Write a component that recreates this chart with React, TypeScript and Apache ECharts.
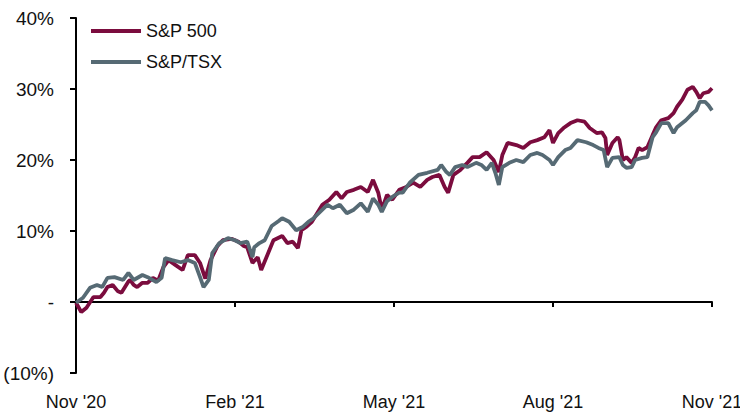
import React, { useEffect, useRef } from "react";
import * as echarts from "echarts";

// x = days since 2 Nov 2020, y = cumulative return (%)
const spDays = [0, 3, 6, 10, 14, 16, 18, 21, 24, 26, 30, 31, 33, 35, 38, 41, 44, 47, 50, 53, 57, 61, 64, 68, 71, 74, 77, 81, 84, 89, 93, 96, 98, 101, 104, 106, 109, 113, 118, 121, 124, 127, 129, 132, 135, 138, 141, 145, 149, 152, 155, 159, 163, 167, 170, 173, 175, 178, 181, 185, 189, 193, 197, 201, 204, 208, 211, 213, 216, 220, 224, 227, 231, 235, 239, 242, 244, 247, 252, 256, 260, 264, 268, 271, 273, 276, 279, 283, 287, 291, 294, 298, 301, 303, 304, 307, 310, 311, 313, 315, 318, 320, 322, 324, 327, 330, 332, 335, 339, 342, 344, 347, 350, 353, 355, 357, 359, 362, 364];
const spValues = [-0.1, -1.4, -0.8, 0.7, 0.7, 1.3, 2.1, 2.4, 1.5, 1.3, 2.9, 3.1, 2.4, 2.1, 2.7, 2.7, 3.4, 3.0, 4.9, 5.9, 5.2, 4.5, 6.6, 6.6, 5.5, 3.3, 5.9, 7.9, 8.7, 8.9, 8.5, 7.9, 7.7, 5.5, 6.3, 4.5, 6.3, 8.7, 9.3, 8.3, 8.5, 7.6, 10.1, 10.6, 11.3, 12.5, 13.7, 14.4, 15.5, 14.6, 15.5, 15.8, 16.2, 15.5, 17.2, 15.4, 13.0, 15.1, 14.4, 15.8, 16.2, 16.8, 16.2, 17.2, 17.6, 17.9, 16.2, 15.4, 17.9, 18.6, 19.6, 20.4, 20.4, 21.1, 20.0, 18.3, 20.7, 22.4, 22.1, 21.7, 22.5, 22.8, 23.2, 24.2, 22.4, 23.8, 24.5, 25.2, 25.6, 25.4, 24.5, 23.8, 23.9, 23.1, 20.7, 22.4, 23.2, 22.8, 20.0, 20.4, 19.6, 20.4, 21.7, 21.4, 21.8, 23.5, 24.6, 25.6, 25.9, 26.6, 27.5, 28.5, 29.9, 30.3, 29.6, 28.7, 29.4, 29.6, 30.1];

const tsxDays = [0, 4, 8, 12, 15, 18, 22, 27, 30, 33, 38, 41, 46, 49, 51, 55, 60, 64, 68, 71, 73, 76, 78, 82, 87, 91, 94, 98, 101, 102, 105, 108, 112, 116, 118, 122, 126, 130, 133, 136, 141, 144, 147, 151, 155, 159, 163, 167, 170, 173, 175, 178, 181, 185, 187, 191, 196, 201, 207, 209, 212, 214, 217, 221, 224, 229, 232, 235, 238, 240, 242, 244, 248, 252, 256, 260, 264, 267, 271, 273, 276, 280, 283, 287, 292, 296, 299, 302, 304, 307, 311, 313, 315, 318, 320, 324, 327, 330, 332, 335, 339, 342, 344, 349, 353, 355, 357, 360, 362, 364];
const tsxValues = [-0.1, 0.6, 2.0, 2.4, 2.1, 3.4, 3.5, 3.1, 4.1, 3.1, 3.8, 3.5, 2.8, 3.4, 6.2, 5.9, 5.6, 5.9, 5.5, 3.5, 2.1, 3.1, 6.9, 8.3, 9.0, 8.7, 8.3, 8.5, 6.3, 7.7, 8.3, 8.7, 10.7, 11.4, 11.8, 11.3, 10.1, 10.6, 11.3, 11.8, 13.0, 13.7, 13.2, 13.7, 12.5, 13.0, 13.9, 12.7, 14.6, 13.7, 12.7, 14.2, 14.8, 15.4, 15.4, 16.8, 17.9, 18.2, 18.6, 19.3, 18.3, 17.9, 19.0, 19.3, 19.0, 19.6, 19.3, 18.6, 19.6, 18.2, 16.5, 19.0, 19.6, 20.0, 19.7, 20.7, 21.0, 20.7, 20.0, 19.3, 20.4, 21.4, 21.7, 22.8, 22.5, 22.1, 21.7, 21.4, 19.0, 20.3, 20.4, 19.3, 18.9, 19.0, 20.0, 20.3, 20.4, 23.2, 23.9, 25.2, 25.2, 23.8, 24.6, 25.6, 26.6, 27.0, 28.2, 28.2, 27.7, 27.0];

const xTickDays = [0, 91, 182, 273, 364];
const xTickLabels = ["Nov '20", "Feb '21", "May '21", "Aug '21", "Nov '21"];
const seriesNames = ["S&P 500", "S&P/TSX"];

const FONT = "'Liberation Sans Narrow', 'Liberation Sans', Arial, sans-serif";

export default function App() {
  const ref = useRef<HTMLDivElement>(null);
  useEffect(() => {
    if (!ref.current) return;
    const chart = echarts.init(ref.current, null, { renderer: "svg" });
    const zip = (xs: number[], ys: number[]) => xs.map((x, i) => [x, ys[i]]);
    chart.setOption({
      animation: false,
      grid: { left: 76, right: 28, top: 18, bottom: 39, containLabel: false, outerBoundsMode: "none" },
      legend: {
        orient: "vertical",
        left: 86,
        top: 17,
        itemWidth: 50,
        itemHeight: 4,
        itemGap: 13,
        icon: "rect",
        textStyle: { fontFamily: FONT, fontSize: 18, color: "#111" },
        data: seriesNames,
      },
      xAxis: {
        type: "value",
        min: 0,
        max: 364,
        interval: 91,
        axisLine: { onZero: true, lineStyle: { color: "#000", width: 2 } },
        axisTick: { show: true, length: 5, lineStyle: { color: "#000", width: 2 } },
        splitLine: { show: false },
        axisLabel: {
          margin: 20,
          fontFamily: FONT,
          fontSize: 18,
          color: "#111",
          showMaxLabel: true,
          showMinLabel: true,
          verticalAlign: "top",
          formatter: (v: number) => {
            const i = xTickDays.indexOf(Math.round(v));
            return i >= 0 ? xTickLabels[i] : "";
          },
        },
      },
      yAxis: {
        type: "value",
        min: -10,
        max: 40,
        interval: 10,
        axisLine: { show: true, lineStyle: { color: "#000", width: 2 } },
        axisTick: { show: true, length: 6, lineStyle: { color: "#000", width: 2 } },
        splitLine: { show: false },
        axisLabel: {
          margin: 22,
          fontFamily: FONT,
          fontSize: 19,
          color: "#111",
          formatter: (v: number) => (v < 0 ? `(${Math.abs(v)}%)` : v === 0 ? "-" : `${v}%`),
        },
      },
      series: [
        {
          name: seriesNames[0],
          type: "line",
          data: zip(spDays, spValues),
          showSymbol: false,
          symbol: "none",
          lineStyle: { color: "#7b0c3e", width: 3.8 },
          itemStyle: { color: "#7b0c3e" },
          z: 3,
        },
        {
          name: seriesNames[1],
          type: "line",
          data: zip(tsxDays, tsxValues),
          showSymbol: false,
          symbol: "none",
          lineStyle: { color: "#566a74", width: 3.8 },
          itemStyle: { color: "#566a74" },
          z: 4,
        },
      ],
    });
    return () => chart.dispose();
  }, []);
  return <div ref={ref} style={{ width: 740, height: 412, position: "absolute", left: 0, top: 0 }} />;
}
